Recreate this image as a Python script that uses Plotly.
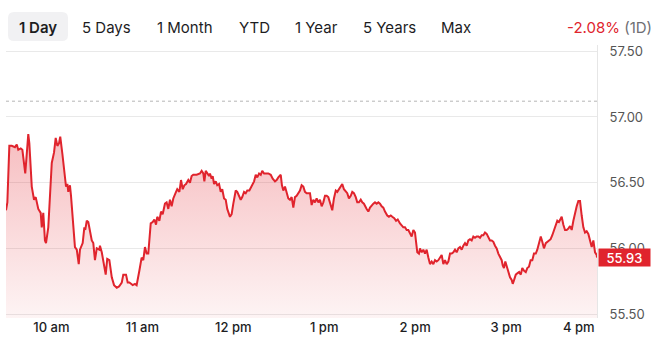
import pandas as pd
import plotly.graph_objects as go

# ---- data (minutes after 9:30 open, price) ----
minutes = [0.0, 0.9, 2.2, 3.8, 5.9, 7.1, 8.1, 9.7, 10.8, 12.7, 14.7, 15.4, 17.0, 18.5, 19.6, 21.3, 22.9, 23.6, 24.6, 25.7,
           26.4, 27.9, 30.2, 31.7, 32.8, 33.9, 35.0, 35.8, 37.2, 38.5, 39.6, 40.5, 41.1, 42.2, 42.9, 45.5, 46.7, 48.0, 48.8, 50.6,
           51.7, 52.3, 53.3, 54.3, 56.6, 57.6, 58.7, 59.9, 61.6,
           62.0, 63.2, 65.8, 66.8, 68.2, 69.8, 71.3, 73.1, 74.6, 76.4, 77.4, 79.2, 80.3, 81.4, 82.5, 83.6, 85.1, 86.2, 88.0, 89.5,
           90.6, 91.7, 92.8, 93.9, 95.5, 96.8, 97.9, 99.0, 99.8, 101.2, 102.3, 103.4, 104.9, 106.0, 107.1, 108.2, 109.3, 110.4, 112.2, 113.0,
           114.4, 115.5, 116.6, 117.7, 118.8, 120.3, 121.4, 122.5, 123.6, 125.8, 128.0,
           129.1, 130.2, 130.9, 131.8, 132.8, 134.0, 134.6, 135.7, 136.4, 137.3, 138.4, 139.4, 140.6, 141.7, 142.7, 143.9, 145.0, 146.0,
           147.8, 148.9, 150.0, 151.6, 152.6, 153.8, 154.9, 155.9, 157.1, 158.2, 159.2, 160.6, 162.1, 163.7, 164.8, 165.8, 167.0, 168.1,
           169.1, 170.3, 171.6, 173.1, 174.7, 176.0, 177.5, 178.6, 179.7, 181.3, 182.1, 183.0, 184.1, 185.2, 186.3, 187.4, 188.5, 189.6,
           190.7, 191.8, 194.0,
           195.1, 196.2, 197.3, 198.4, 199.5, 200.6, 201.7, 202.8, 203.9, 205.0, 206.1, 207.2, 208.3, 209.4, 210.5, 211.6, 212.7, 213.8,
           215.3, 216.4, 217.6, 218.6, 219.7, 220.9, 221.9, 223.0, 224.2, 225.2, 226.3, 227.5, 228.5, 229.6, 230.8, 231.8, 232.9, 234.1,
           235.1, 236.2, 238.0, 239.1, 240.2, 241.3, 242.4, 243.5, 244.6, 245.7, 246.8, 247.9, 249.0, 250.1, 251.6, 252.7, 253.9, 254.9,
           256.2, 257.4, 258.5, 260.0,
           261.1, 262.2, 263.3, 264.4, 265.5, 266.6, 267.7, 268.8, 269.9, 270.6, 271.4, 272.5, 273.2, 274.3, 275.4, 276.5, 277.6, 278.7,
           279.8, 280.9, 282.0, 283.1, 284.2, 285.3, 286.4, 287.5, 288.6, 289.7, 290.8, 291.9, 293.0, 294.1, 295.2, 296.3, 297.4, 298.5,
           299.6, 300.7, 301.8, 302.9, 304.0, 305.1, 306.2, 307.3, 308.4, 309.5, 310.6, 311.7, 312.8, 313.9, 315.0, 316.1, 317.2, 318.3,
           319.4, 320.5, 321.6, 322.7, 323.8, 324.9, 326.0,
           327.1, 327.8, 328.6, 329.5, 330.4, 331.5, 332.6, 333.7, 334.4, 335.3, 336.4, 337.4, 338.6, 339.7, 340.7, 341.9, 343.0, 344.0,
           345.1, 346.2, 347.3, 348.4, 349.6, 350.6, 351.7, 352.9, 353.9, 355.0, 356.2, 357.2, 358.3, 359.4, 360.5, 361.6, 362.7, 363.8,
           364.9, 366.0, 366.7, 367.8, 368.9, 370.0, 371.1, 372.2, 373.3, 374.4, 375.5, 376.6, 377.7, 378.8, 379.9, 381.0, 382.1, 383.2,
           384.3, 385.4, 386.5, 387.6, 388.7, 389.8, 390.0]

prices = [56.29, 56.35, 56.78, 56.78, 56.77, 56.79, 56.75, 56.76, 56.75, 56.57, 56.87, 56.80, 56.47, 56.37, 56.39, 56.30, 56.27, 56.16, 56.27, 56.06,
          56.04, 56.16, 56.65, 56.73, 56.84, 56.78, 56.80, 56.85, 56.72, 56.59, 56.47, 56.49, 56.43, 56.48, 56.40, 56.01, 55.99, 55.88, 55.99, 56.04,
          56.16, 56.14, 56.21, 56.20, 56.06, 56.04, 55.91, 56.00, 55.99,
          56.02, 55.97, 55.80, 55.92, 55.91, 55.78, 55.72, 55.70, 55.71, 55.74, 55.80, 55.80, 55.74, 55.74, 55.73, 55.72, 55.73, 55.72, 55.83, 55.93,
          55.91, 56.01, 55.96, 55.96, 56.19, 56.20, 56.22, 56.18, 56.24, 56.21, 56.28, 56.26, 56.34, 56.35, 56.30, 56.37, 56.32, 56.38, 56.43, 56.45,
          56.43, 56.52, 56.45, 56.48, 56.49, 56.52, 56.50, 56.55, 56.56, 56.56, 56.57,
          56.59, 56.57, 56.51, 56.59, 56.57, 56.55, 56.57, 56.53, 56.55, 56.49, 56.51, 56.48, 56.49, 56.43, 56.45, 56.38, 56.37, 56.30,
          56.24, 56.26, 56.34, 56.44, 56.43, 56.40, 56.37, 56.39, 56.43, 56.42, 56.44, 56.44, 56.47, 56.51, 56.56, 56.54, 56.57, 56.56,
          56.59, 56.57, 56.57, 56.57, 56.56, 56.53, 56.51, 56.52, 56.54, 56.56, 56.48, 56.44, 56.47, 56.43, 56.38, 56.37, 56.39, 56.31,
          56.39, 56.40, 56.44,
          56.48, 56.47, 56.43, 56.42, 56.42, 56.42, 56.33, 56.37, 56.35, 56.38, 56.35, 56.37, 56.32, 56.35, 56.40, 56.40, 56.39, 56.35,
          56.29, 56.38, 56.44, 56.43, 56.45, 56.47, 56.49, 56.45, 56.43, 56.42, 56.38, 56.40, 56.43, 56.42, 56.39, 56.35, 56.35, 56.37,
          56.35, 56.34, 56.30, 56.28, 56.31, 56.33, 56.34, 56.35, 56.34, 56.35, 56.34, 56.32, 56.31, 56.28, 56.25, 56.24, 56.25, 56.24,
          56.23, 56.21, 56.22, 56.19,
          56.17, 56.16, 56.16, 56.14, 56.14, 56.11, 56.09, 56.14, 56.12, 56.05, 55.97, 55.96, 56.00, 55.97, 55.99, 55.96, 55.99, 55.93,
          55.88, 55.90, 55.88, 55.91, 55.90, 55.91, 55.93, 55.95, 55.88, 55.91, 55.88, 55.90, 55.96, 55.96, 55.97, 55.99, 55.97, 56.00,
          56.01, 55.99, 56.02, 56.04, 56.02, 56.06, 56.07, 56.06, 56.09, 56.08, 56.09, 56.09, 56.08, 56.10, 56.10, 56.12, 56.11, 56.09,
          56.06, 56.06, 56.05, 56.02, 56.00, 55.96, 55.93,
          55.91, 55.87, 55.85, 55.90, 55.86, 55.82, 55.78, 55.76, 55.73, 55.76, 55.80, 55.81, 55.82, 55.80, 55.85, 55.83, 55.82, 55.85,
          55.86, 55.91, 55.91, 55.96, 55.96, 55.99, 56.04, 56.09, 56.05, 56.00, 56.04, 56.05, 56.06, 56.07, 56.10, 56.14, 56.17, 56.21,
          56.20, 56.23, 56.24, 56.18, 56.14, 56.14, 56.15, 56.17, 56.14, 56.21, 56.28, 56.32, 56.36, 56.36, 56.25, 56.16, 56.12, 56.13,
          56.11, 56.06, 56.01, 56.06, 55.97, 55.95, 55.93]

prev_close = 57.12
last_price = 55.93
change_text = "-2.08%"
y_ticks = [55.50, 56.00, 56.50, 57.00, 57.50]
x_tick_times = ["10:00", "11:00", "12:00", "13:00", "14:00", "15:00"]
x_tick_labels = ["10 am", "11 am", "12 pm", "1 pm", "2 pm", "3 pm"]
range_buttons = ["1 Day", "5 Days", "1 Month", "YTD", "1 Year", "5 Years", "Max"]
button_centers_px = [38, 106, 185, 254, 316, 389, 456]

day = "2024-05-15"
open_t = pd.Timestamp(f"{day} 09:30")
times = [open_t + pd.Timedelta(minutes=m) for m in minutes]

RED = "#e0242d"
FONT = "Inter, Roboto, sans-serif"

# plot area geometry (pixels)
W, H = 661, 355
L, R, T, B = 6, 64, 45, 37
PW, PH = W - L - R, H - T - B

def px_x(px):
    return (px - L) / PW

def px_y(py):
    return (H - B - py) / PH

fig = go.Figure()
fig.add_trace(go.Scatter(
    x=times, y=prices, mode="lines",
    line=dict(color=RED, width=2),
    fill="tozeroy",
    fillgradient=dict(type="vertical", start=55.47, stop=56.87,
                      colorscale=[[0, "rgba(226,36,45,0.05)"], [1, "rgba(226,36,45,0.30)"]]),
    hoverinfo="skip", showlegend=False,
))

shapes = [
    dict(type="line", xref="paper", yref="y", x0=0, x1=1, y0=prev_close, y1=prev_close,
         line=dict(color="#b5b5b5", width=1, dash="dot"), layer="above"),
]
# rounded box behind the active button
bx0, bx1, by0, by1 = px_x(8), px_x(68), px_y(41), px_y(12)
rx, ry = 6 / PW, 6 / PH
path = (f"M{bx0+rx},{by0} L{bx1-rx},{by0} Q{bx1},{by0} {bx1},{by0+ry} L{bx1},{by1-ry} "
        f"Q{bx1},{by1} {bx1-rx},{by1} L{bx0+rx},{by1} Q{bx0},{by1} {bx0},{by1-ry} "
        f"L{bx0},{by0+ry} Q{bx0},{by0} {bx0+rx},{by0} Z")
shapes.append(dict(type="path", xref="paper", yref="paper", path=path,
                   fillcolor="#f1f1f3", line=dict(width=0), layer="below"))

annotations = []
for i, (lab, cx) in enumerate(zip(range_buttons, button_centers_px)):
    annotations.append(dict(
        text=lab, x=px_x(cx), y=px_y(27), xref="paper", yref="paper",
        xanchor="center", yanchor="middle", showarrow=False,
        font=dict(family=FONT, size=15, color="#1d1d1f", weight=600 if i == 0 else 400),
    ))
annotations.append(dict(
    text=f"<span style='color:{RED}'>{change_text}</span> <span style='color:#6e6e73'>(1D)</span>",
    x=px_x(654), y=px_y(27), xref="paper", yref="paper",
    xanchor="right", yanchor="middle", showarrow=False,
    font=dict(family=FONT, size=15, color="#6e6e73"),
))
annotations.append(dict(
    text="4 pm", x=pd.Timestamp(f"{day} 16:00"), y=0, xref="x", yref="paper",
    xanchor="right", yanchor="top", yshift=1, showarrow=False,
    font=dict(family=FONT, size=13, color="#1d1d1f", weight=500),
))
annotations.append(dict(
    text=f"{last_price:.2f}", x=1, y=last_price, xref="paper", yref="y",
    xanchor="left", yanchor="middle", xshift=1, showarrow=False,
    bgcolor=RED, width=49, height=15, borderpad=1, align="center",
    font=dict(family=FONT, size=13, color="white", weight=500),
))

fig.update_layout(
    width=W, height=H,
    margin=dict(l=L, r=R, t=T, b=B),
    paper_bgcolor="white", plot_bgcolor="white",
    shapes=shapes, annotations=annotations,
    xaxis=dict(
        type="date",
        range=[open_t, pd.Timestamp(f"{day} 16:00")],
        tickvals=[pd.Timestamp(f"{day} {t}") for t in x_tick_times],
        ticktext=x_tick_labels,
        showgrid=False, zeroline=False, showline=False, ticks="",
        tickfont=dict(family=FONT, size=13, color="#1d1d1f", weight=500),
        fixedrange=True,
    ),
    yaxis=dict(
        side="right",
        range=[55.47, 55.47 + PH / 131.4],
        tickvals=y_ticks, tickformat=".2f",
        showgrid=True, gridcolor="#e9e9e9", gridwidth=1,
        zeroline=False, showline=True, linecolor="#e6e6e6", linewidth=1,
        ticks="", ticklabelstandoff=9,
        tickfont=dict(family=FONT, size=13, color="#555555"),
        fixedrange=True,
    ),
    showlegend=False,
)

fig.write_html("out.html")
